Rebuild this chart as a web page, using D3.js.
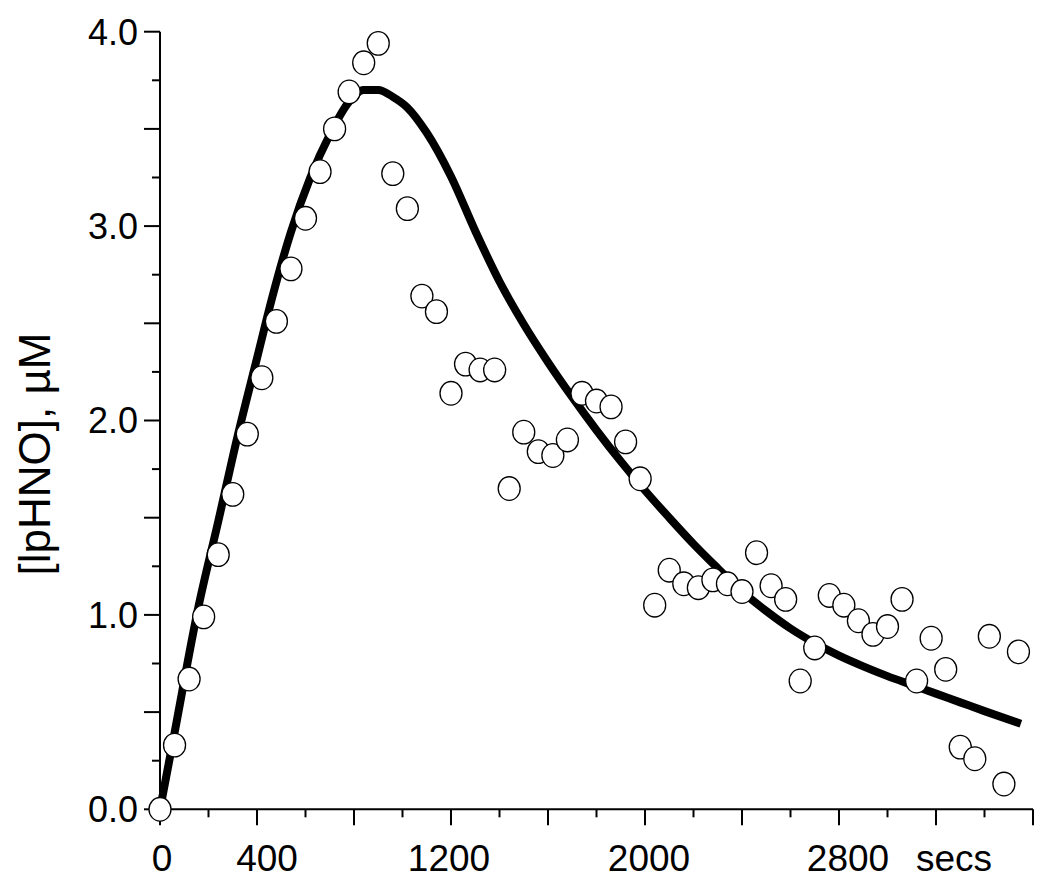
<!DOCTYPE html>
<html>
<head>
<meta charset="utf-8">
<script src="https://cdn.jsdelivr.net/npm/d3@7"></script>
<style>
  body { margin: 0; background: #fff; }
  svg text { font-family: "Liberation Sans", Arial, Helvetica, sans-serif; fill: #000; }
</style>
</head>
<body>
<svg id="chart" width="1050" height="886"></svg>
<script>
// measured points (secs, uM)
const times = [0, 60, 120, 180, 240, 300, 360, 420, 480, 540,
  600, 660, 720, 780, 840, 900, 960, 1020, 1080, 1140,
  1200, 1260, 1320, 1380, 1440, 1500, 1560, 1620, 1680, 1740,
  1800, 1860, 1920, 1980, 2040, 2100, 2160, 2220, 2280, 2340,
  2400, 2460, 2520, 2580, 2640, 2700, 2760, 2820, 2880, 2940,
  3000, 3060, 3120, 3180, 3240, 3300, 3360, 3420, 3480, 3540];
const conc = [0.00, 0.33, 0.67, 0.99, 1.31, 1.62, 1.93, 2.22, 2.51, 2.78,
  3.04, 3.28, 3.50, 3.69, 3.84, 3.94, 3.27, 3.09, 2.64, 2.56,
  2.14, 2.29, 2.26, 2.26, 1.65, 1.94, 1.84, 1.82, 1.90, 2.14,
  2.10, 2.07, 1.89, 1.70, 1.05, 1.23, 1.16, 1.14, 1.18, 1.16,
  1.12, 1.32, 1.15, 1.08, 0.66, 0.83, 1.10, 1.05, 0.97, 0.90,
  0.94, 1.08, 0.66, 0.88, 0.72, 0.32, 0.26, 0.89, 0.13, 0.81];

// fitted curve
const fitTimes = [0, 55, 160, 240, 320, 400, 460, 540, 620, 700,
  780, 840, 900, 960, 1020, 1100, 1200, 1300, 1400, 1500,
  1600, 1700, 1800, 1900, 2000, 2100, 2200, 2300, 2400, 2500,
  2600, 2700, 2800, 2900, 3000, 3100, 3200, 3300, 3400, 3550];
const fitConc = [0.00, 0.36, 1.05, 1.48, 1.92, 2.32, 2.62, 2.97, 3.25, 3.47,
  3.64, 3.70, 3.70, 3.665, 3.61, 3.48, 3.255, 2.975, 2.715, 2.495,
  2.30, 2.12, 1.95, 1.79, 1.64, 1.50, 1.365, 1.24, 1.12, 1.02,
  0.93, 0.855, 0.79, 0.735, 0.685, 0.64, 0.595, 0.55, 0.505, 0.44];

const xLabels = [[0, "0"], [400, "400"], [1200, "1200"], [2000, "2000"], [2800, "2800"], [3200, "secs"]];
const yLabels = [0, 1, 2, 3, 4];

const svg = d3.select("#chart");
const x = d3.scaleLinear().domain([0, 3600]).range([160, 1033]);
const y = d3.scaleLinear().domain([0, 4]).range([809.3, 31.7]);

const xTickVals = d3.range(0, 3601, 200);
const yTickVals = d3.range(0, 4.001, 0.25);

// y axis
const yAxis = svg.append("g").attr("transform", `translate(${x(0)},0)`);
yAxis.append("line")
  .attr("y1", y(0)).attr("y2", y(4))
  .attr("stroke", "#000").attr("stroke-width", 2);
yAxis.selectAll("line.tick")
  .data(yTickVals)
  .enter().append("line")
  .attr("class", "tick")
  .attr("x1", d => (Math.round(d * 4) % 2 === 0) ? -16 : -8)
  .attr("x2", 0)
  .attr("y1", d => y(d)).attr("y2", d => y(d))
  .attr("stroke", "#000").attr("stroke-width", 2);
yAxis.selectAll("text")
  .data(yLabels)
  .enter().append("text")
  .attr("x", -22)
  .attr("y", d => y(d))
  .attr("dy", "0.36em")
  .attr("text-anchor", "end")
  .style("font-size", "36px")
  .text(d => d3.format(".1f")(d));

// x axis
const labelNudge = {0: 2, 400: 10, 1200: -2, 2000: 4, 2800: 9, 3200: 18};
const xAxis = svg.append("g").attr("transform", `translate(0,${y(0)})`);
xAxis.append("line")
  .attr("x1", x(0)).attr("x2", x(3600))
  .attr("stroke", "#000").attr("stroke-width", 2);
xAxis.selectAll("line.tick")
  .data(xTickVals)
  .enter().append("line")
  .attr("class", "tick")
  .attr("x1", d => x(d)).attr("x2", d => x(d))
  .attr("y1", 0)
  .attr("y2", d => (d % 400 === 0) ? 16 : 8)
  .attr("stroke", "#000").attr("stroke-width", 2);
xAxis.selectAll("text")
  .data(xLabels)
  .enter().append("text")
  .attr("x", d => x(d[0]) + labelNudge[d[0]])
  .attr("y", 62)
  .attr("text-anchor", "middle")
  .style("font-size", "37px")
  .text(d => d[1]);

// y title
svg.append("text")
  .attr("transform", "translate(50,454) rotate(-90)")
  .attr("text-anchor", "middle")
  .style("font-size", "44px")
  .text("[lpHNO], µM");

// fitted line
const line = d3.line()
  .x((d, i) => x(fitTimes[i]))
  .y(d => y(d))
  .curve(d3.curveMonotoneX);
svg.append("path")
  .datum(fitConc)
  .attr("d", line)
  .attr("fill", "none")
  .attr("stroke", "#000")
  .attr("stroke-width", 8);

// data points
svg.append("g")
  .selectAll("ellipse")
  .data(conc)
  .enter().append("ellipse")
  .attr("cx", (d, i) => x(times[i]))
  .attr("cy", d => y(d))
  .attr("rx", 11)
  .attr("ry", 11.8)
  .attr("fill", "#fff")
  .attr("stroke", "#000")
  .attr("stroke-width", 1.3);
</script>
</body>
</html>
